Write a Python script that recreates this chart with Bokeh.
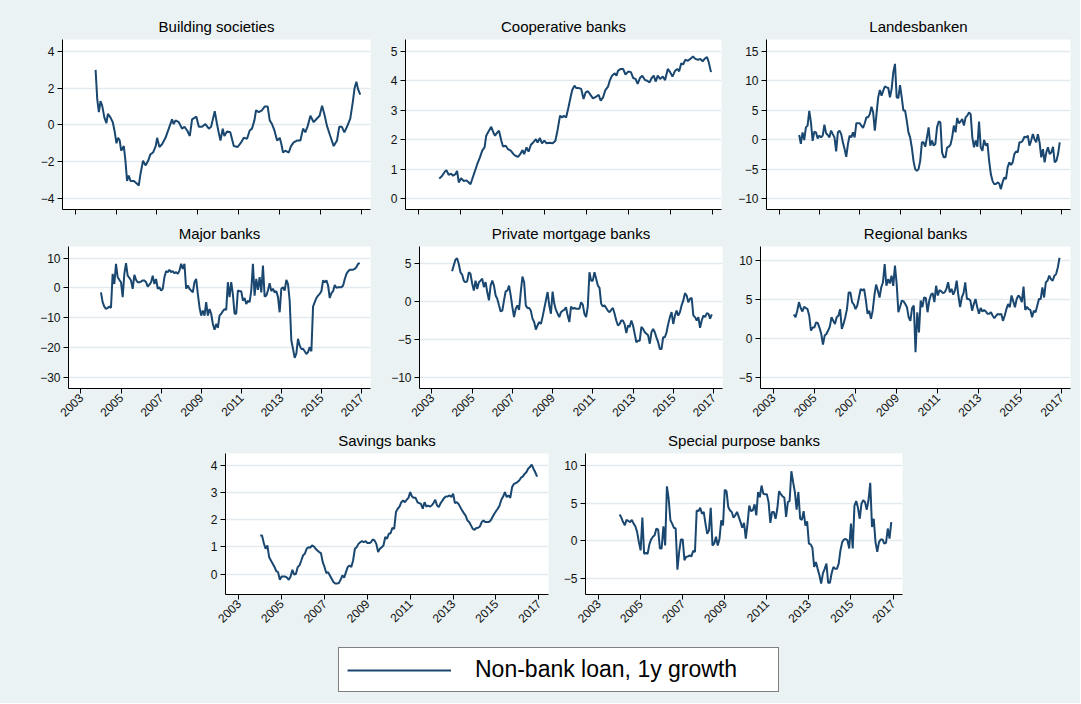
import math
from bokeh.plotting import figure
from bokeh.layouts import column, row
from bokeh.models import Range1d, FixedTicker, Legend, LegendItem
from bokeh.embed import file_html
from bokeh.resources import INLINE

BG = "#EAF2F3"
LINE = "#1A476F"
GRID = "#E2EAEE"
FONT = "Liberation Sans"

legend_label = "Non-bank loan, 1y growth"
x_ticks = [2003, 2005, 2007, 2009, 2011, 2013, 2015, 2017]
months = [2004 + k / 12 for k in range(156)]

# ---- Building societies (irregular reading dates) ----
bs_dates = [2004.00, 2004.08, 2004.16, 2004.24, 2004.32, 2004.43, 2004.53, 2004.60, 2004.73, 2004.84,
            2004.94, 2005.02, 2005.10, 2005.18, 2005.25, 2005.38, 2005.46, 2005.54, 2005.62, 2005.71,
            2005.87, 2006.03, 2006.11, 2006.19, 2006.32, 2006.44, 2006.57, 2006.68, 2006.81, 2006.94,
            2007.01, 2007.12, 2007.25, 2007.42, 2007.58, 2007.74, 2007.82, 2007.91, 2008.07, 2008.23,
            2008.35, 2008.48, 2008.61, 2008.72, 2008.93, 2009.05, 2009.21, 2009.37, 2009.54, 2009.65,
            2009.83, 2009.94, 2010.02, 2010.11, 2010.22, 2010.30, 2010.43, 2010.59, 2010.76, 2010.95,
            2011.12, 2011.25, 2011.41, 2011.54, 2011.65, 2011.77, 2011.85, 2011.98, 2012.14, 2012.27,
            2012.42, 2012.52, 2012.63, 2012.75, 2012.88, 2013.01, 2013.09, 2013.17, 2013.28, 2013.45,
            2013.56, 2013.69, 2013.85, 2014.02, 2014.15, 2014.26, 2014.38, 2014.51, 2014.67, 2014.83,
            2014.96, 2015.08, 2015.19, 2015.32, 2015.48, 2015.65, 2015.81, 2015.92, 2016.05, 2016.17,
            2016.30, 2016.46, 2016.59, 2016.67, 2016.76, 2016.84, 2016.95]
bs_vals = [3.0, 1.4, 0.7, 1.3, 1.05, 0.4, 0.1, 0.6, 0.4, 0.15,
           -0.4, -1.0, -0.7, -0.85, -1.4, -1.15, -1.95, -3.05, -2.75, -3.05,
           -3.05, -3.2, -3.3, -2.7, -1.95, -2.2, -1.95, -1.6, -1.5, -1.15,
           -0.7, -1.2, -1.05, -0.7, -0.2, 0.3, 0.05, 0.25, 0.15, -0.2,
           -0.1, -0.3, -0.6, 0.3, 0.45, -0.1, -0.1, 0.05, -0.2, -0.1,
           0.75, 0.05, -0.4, -0.85, -0.2, -0.6, -0.35, -0.4, -1.15, -1.2,
           -0.95, -0.7, -0.75, -0.3, -0.2, 0.25, 0.8, 0.7, 0.8, 1.0,
           1.0, 0.25, 0.05, -0.3, -0.85, -0.7, -1.05, -1.5, -1.4, -1.5,
           -1.15, -0.95, -0.85, -0.85, -0.2, -0.4, -0.05, 0.5, 0.15, 0.35,
           0.5, 1.05, 0.6, -0.05, -0.6, -1.15, -0.85, -0.1, -0.1, -0.4,
           -0.1, 0.35, 1.3, 2.0, 2.35, 1.95, 1.65]

# ---- Cooperative banks (irregular reading dates) ----
coop_dates = [2003.99, 2004.12, 2004.23, 2004.33, 2004.44, 2004.55, 2004.65, 2004.76, 2004.84, 2004.92,
              2005.03, 2005.16, 2005.29, 2005.40, 2005.48, 2005.56, 2005.67, 2005.80, 2005.93, 2006.04,
              2006.15, 2006.23, 2006.36, 2006.47, 2006.57, 2006.65, 2006.76, 2006.84, 2006.95, 2007.03,
              2007.16, 2007.27, 2007.40, 2007.53, 2007.64, 2007.75, 2007.85, 2007.96, 2008.04, 2008.15,
              2008.25, 2008.36, 2008.47, 2008.60, 2008.68, 2008.79, 2008.89, 2009.00, 2009.11, 2009.24,
              2009.40, 2009.53, 2009.64, 2009.75, 2009.85, 2009.93, 2010.04, 2010.15, 2010.25, 2010.33,
              2010.44, 2010.52, 2010.63, 2010.76, 2010.87, 2010.97, 2011.08, 2011.21, 2011.32, 2011.48,
              2011.59, 2011.69, 2011.80, 2011.91, 2012.04, 2012.12, 2012.23, 2012.36, 2012.44, 2012.52,
              2012.65, 2012.76, 2012.87, 2013.00, 2013.13, 2013.24, 2013.35, 2013.45, 2013.56, 2013.67,
              2013.80, 2013.91, 2014.02, 2014.12, 2014.22, 2014.31, 2014.41, 2014.52, 2014.65, 2014.76,
              2014.89, 2015.00, 2015.11, 2015.24, 2015.34, 2015.43, 2015.53, 2015.62, 2015.72, 2015.85,
              2015.96, 2016.09, 2016.20, 2016.33, 2016.44, 2016.55, 2016.68, 2016.76, 2016.84, 2016.95]
coop_vals = [0.68, 0.77, 0.89, 0.97, 0.81, 0.85, 0.78, 0.83, 0.94, 0.55,
             0.69, 0.60, 0.62, 0.55, 0.49, 0.66, 0.89, 1.17, 1.40, 1.63,
             1.74, 2.14, 2.31, 2.44, 2.25, 2.14, 2.25, 2.31, 1.97, 1.77,
             1.80, 1.68, 1.63, 1.51, 1.45, 1.42, 1.51, 1.65, 1.51, 1.74,
             1.60, 1.83, 1.91, 2.02, 1.91, 2.06, 1.88, 1.97, 1.88, 1.90,
             1.88, 1.97, 2.36, 2.82, 2.76, 2.82, 2.76, 3.10, 3.44, 3.69,
             3.84, 3.76, 3.76, 3.73, 3.39, 3.61, 3.65, 3.52, 3.41, 3.47,
             3.53, 3.33, 3.44, 3.69, 3.81, 4.01, 4.18, 4.26, 4.18, 4.35,
             4.41, 4.41, 4.22, 4.32, 4.30, 4.10, 4.07, 3.90, 4.10, 4.18,
             4.03, 4.01, 3.95, 4.10, 4.18, 3.98, 4.18, 4.07, 4.15, 4.03,
             4.41, 4.30, 4.15, 4.35, 4.41, 4.33, 4.60, 4.56, 4.72, 4.69,
             4.75, 4.83, 4.75, 4.72, 4.75, 4.67, 4.78, 4.81, 4.64, 4.30]

# ---- Monthly series 2004m1 - 2016m12 ----
landes_vals = [0.8, -0.7, 1.25, -0.05, 2.1, 2.4, 4.9, 2.95, -0.2, 1.35, 1.25, 0.2,
               0.7, 0.4, 0.7, 2.55, 1.1, 0.8, 0.4, 1.55, 0.95, 0.4, -2.0, 1.25,
               1.55, 0.95, -0.45, -1.6, -2.9, -0.75, 0.7, 0.4, 1.25, 0.4, 2.8, 2.8,
               2.8, 2.4, 2.0, 2.8, 3.8, 3.8, 4.35, 5.6, 4.65, 1.55, 4.35, 7.2,
               8.45, 7.5, 8.35, 9.05, 8.9, 8.8, 7.2, 8.65, 11.5, 12.9, 7.2, 7.1,
               9.3, 7.2, 4.95, 4.95, 3.25, 1.25, 0.4, -1.3, -3.6, -5.0, -5.3, -5.0,
               -3.6, -0.45, -0.45, -1.2, 0.4, 2.1, -1.0, -0.15, -1.0, -0.75, 2.1, 3.1,
               2.95, -2.15, -3.0, -3.0, -1.3, -1.2, -0.85, 0.4, 2.4, 1.25, 3.7, 2.8,
               3.1, 3.5, 2.4, 3.8, 4.1, 4.65, 4.35, 0.4, -1.3, -0.15, -1.2, 3.1,
               -1.3, -1.9, -0.05, -1.0, -0.6, -3.6, -5.85, -7.0, -7.55, -7.55, -7.25, -7.45,
               -8.4, -7.25, -6.4, -6.7, -4.7, -3.85, -4.3, -3.85, -2.45, -2.0, -2.15, -0.45,
               -0.45, -0.15, 0.5, 0.4, 0.7, -1.0, -0.15, 0.95, 0.1, -0.45, 0.95, -0.45,
               -3.0, -1.6, -3.85, -2.15, -1.3, -2.45, -2.15, -1.2, -3.85, -3.6, -2.45, -0.45]

major_vals = [-1.5, -4.8, -6.3, -7.1, -6.7, -6.3, -6.7, 4.7, 1.3, 8.1, 3.6, 2.7,
              1.9, -3.1, 4.7, 8.3, 4.1, 3.4, 2.5, -0.3, 4.4, 2.7, 1.9, 1.9,
              2.1, 2.5, 2.5, 1.9, 0.4, 1.1, 1.9, 4.1, 1.3, 3.0, -0.3, 0.2,
              -0.9, -0.3, 3.6, 5.6, 5.3, 6.1, 5.3, 5.6, 4.9, 5.3, 4.7, 5.8,
              8.1, 6.4, 8.1, -0.3, 0.8, -0.3, -0.9, -1.5, 1.9, 3.0, -2.0, -6.5,
              -9.3, -7.6, -9.3, -4.8, -9.3, -7.1, -8.7, -12.1, -14.1, -12.1, -13.4, -9.3,
              -8.7, -7.8, -7.1, -7.4, 1.9, -3.1, 1.9, -2.2, -8.7, -8.7, -0.9, -1.1,
              -1.1, -4.3, -3.4, -5.4, -4.3, -4.8, -0.9, 8.1, -2.6, 3.0, -0.7, 3.6,
              -1.5, 7.5, -2.9, -2.6, -0.9, 1.6, -1.1, -0.3, -1.5, -1.1, -3.1, -8.2,
              -0.3, 0.2, -0.9, 2.7, 1.3, -4.3, -17.7, -20.5, -23.5, -22.0, -17.1, -19.4,
              -20.5, -20.5, -21.3, -22.2, -21.6, -19.9, -21.3, -6.3, -4.8, -3.4, -2.6, -2.0,
              -1.1, 2.5, 1.9, 2.5, 0.8, -3.4, -1.8, -1.1, 1.0, 0.0, 0.2, 0.2,
              0.2, 0.8, 3.0, 4.7, 5.6, 6.1, 6.1, 6.1, 6.4, 7.0, 8.1, 8.3]

mortgage_vals = [3.95, 4.7, 5.45, 5.65, 4.9, 3.8, 3.5, 2.7, 2.5, 2.6, 3.8, 3.6,
                 2.3, 1.4, 2.7, 1.6, 2.5, 2.7, 2.95, 1.85, 2.5, 1.2, 0.1, 2.05,
                 2.7, 2.05, 0.75, 0.3, -0.55, -1.35, -1.25, 0.1, 1.3, 1.4, 2.05, 0.75,
                 -0.8, -2.1, -1.0, -0.55, -1.15, 1.2, 3.25, 2.5, -0.55, -0.9, -0.9, -1.25,
                 -2.3, -2.75, -3.75, -3.2, -2.75, -3.0, -2.1, -1.0, 0.1, 1.2, -0.55, -1.65,
                 1.25, -0.35, -1.15, -1.65, -2.1, -1.45, -1.25, -1.15, -0.8, -1.9, -2.75, -0.7,
                 -1.0, -0.9, -1.0, -1.0, -1.0, -0.15, -0.45, -1.65, -2.1, -0.7, 3.8, 2.7,
                 2.7, 3.8, 2.95, 2.05, 1.75, -0.35, -0.7, -0.55, -0.9, -1.25, -1.45, -1.15,
                 -0.9, -1.65, -2.55, -3.2, -3.0, -2.55, -2.55, -3.05, -4.2, -3.2, -3.4, -2.55,
                 -3.2, -4.3, -5.4, -5.2, -5.2, -3.4, -3.65, -4.1, -4.3, -4.5, -5.6, -4.1,
                 -3.65, -4.1, -4.8, -5.4, -6.3, -6.3, -4.75, -4.75, -4.1, -3.0, -2.1, -1.45,
                 -3.0, -1.9, -1.25, -1.9, -1.45, -0.55, 0.1, 1.05, 0.75, -0.15, 0.3, 0.45,
                 -1.9, -2.1, -2.55, -2.1, -3.5, -2.55, -1.9, -2.1, -1.6, -1.65, -2.3, -1.75]

regional_vals = [3.05, 2.7, 3.55, 4.65, 3.9, 3.45, 4.05, 3.9, 3.75, 2.9, 1.0, 1.4,
                 1.4, 2.05, 1.95, 1.35, 0.55, -0.8, 0.35, 0.55, 1.0, 1.5, 2.7, 2.25,
                 1.85, 2.7, 2.9, 3.75, 1.2, 1.85, 2.7, 3.75, 5.9, 5.9, 4.65, 4.35,
                 3.75, 4.2, 5.25, 6.35, 6.15, 6.35, 4.95, 3.15, 3.55, 2.5, 3.55, 5.5,
                 6.9, 6.15, 5.25, 6.55, 7.2, 9.55, 6.75, 7.6, 7.05, 8.05, 6.75, 9.35,
                 7.0, 3.35, 4.05, 4.85, 4.75, 4.4, 4.0, 2.7, 2.25, 3.9, 4.2, -1.8,
                 3.35, 0.75, 4.85, 4.0, 5.25, 5.2, 3.35, 4.85, 5.6, 5.8, 4.65, 6.75,
                 5.5, 6.2, 6.05, 5.8, 5.9, 6.35, 7.2, 5.9, 6.35, 5.6, 6.15, 7.4,
                 5.5, 4.0, 5.25, 5.8, 7.2, 5.05, 5.05, 4.85, 3.55, 4.4, 5.05, 4.0,
                 3.15, 3.9, 3.45, 3.65, 3.45, 3.15, 3.15, 3.35, 2.9, 2.6, 2.9, 3.15,
                 3.05, 3.15, 2.25, 2.9, 3.75, 4.4, 4.0, 5.5, 4.75, 4.0, 5.05, 5.5,
                 5.25, 4.65, 6.65, 3.65, 4.05, 3.75, 3.65, 2.7, 3.55, 3.35, 4.2, 5.05,
                 5.05, 6.55, 5.25, 7.2, 7.4, 8.05, 7.6, 7.4, 8.05, 8.25, 9.1, 10.35]

savings_vals = [1.42, 1.42, 1.14, 0.93, 1.05, 0.62, 0.50, 0.38, 0.26, 0.11, 0.07, -0.21,
                -0.09, -0.09, -0.09, -0.13, -0.21, -0.09, 0.16, -0.02, 0.01, 0.26, 0.32, 0.50,
                0.69, 0.75, 0.93, 0.99, 0.97, 1.05, 1.02, 0.93, 0.87, 0.81, 0.77, 0.44,
                0.26, 0.04, 0.07, -0.05, -0.17, -0.29, -0.35, -0.35, -0.33, -0.21, -0.05, -0.13,
                0.07, 0.26, 0.32, 0.26, 0.50, 0.93, 0.99, 1.11, 1.17, 1.21, 1.17, 1.21,
                1.14, 1.14, 1.17, 1.27, 1.24, 1.11, 0.81, 0.93, 0.99, 1.05, 1.36, 1.30,
                1.48, 1.50, 1.70, 1.66, 2.28, 2.40, 2.48, 2.64, 2.70, 2.64, 2.73, 2.80,
                3.01, 2.85, 2.80, 2.80, 2.64, 2.61, 2.58, 2.40, 2.64, 2.48, 2.52, 2.48,
                2.52, 2.61, 2.73, 2.52, 2.46, 2.61, 2.70, 2.80, 2.85, 2.85, 2.89, 2.83,
                2.95, 2.61, 2.64, 2.58, 2.46, 2.34, 2.24, 2.15, 1.97, 1.91, 1.79, 1.66,
                1.63, 1.69, 1.70, 1.75, 1.91, 1.97, 1.91, 1.91, 1.91, 1.97, 2.09, 2.21,
                2.31, 2.40, 2.52, 2.73, 2.85, 3.01, 2.83, 2.89, 2.80, 3.19, 3.31, 3.34,
                3.38, 3.44, 3.54, 3.58, 3.68, 3.74, 3.87, 3.93, 4.02, 3.87, 3.74, 3.58]

special_vals = [3.5, 3.1, 2.5, 2.1, 2.8, 2.65, 2.5, 2.8, 2.3, 1.95, 1.2, -0.15,
                -1.25, 3.1, -1.7, -1.6, -1.7, -0.45, 0.2, 0.55, 0.75, 1.65, 1.5, -1.0,
                -1.0, 1.95, -0.6, 7.25, 5.6, 2.75, 2.3, 1.75, 1.65, -3.8, -1.45, 0.2,
                0.2, -2.55, -2.1, -2.05, -1.9, -2.05, -1.3, -1.45, 4.05, 3.95, 4.4, 3.6,
                3.85, 2.3, 0.95, 1.4, 4.4, -0.6, -0.35, 0.55, -0.6, 0.3, 2.75, 2.05,
                6.8, 6.6, 4.5, 4.05, 3.85, 3.1, 3.4, 3.85, 3.2, 2.5, 1.75, 2.4,
                0.3, 2.3, 4.7, 3.95, 4.05, 4.85, 3.4, 6.5, 5.8, 7.35, 6.25, 6.2,
                6.2, 5.15, 2.4, 3.85, 3.85, 2.95, 4.3, 6.6, 6.2, 5.9, 5.75, 3.2,
                5.15, 5.3, 9.25, 7.8, 6.5, 4.15, 6.5, 2.95, 2.8, 3.95, 2.05, 2.6,
                -0.35, -0.45, -0.9, -3.45, -2.8, -3.7, -4.55, -5.65, -4.3, -3.7, -3.0, -5.55,
                -5.55, -4.25, -3.45, -3.7, -3.7, -3.0, -1.25, -0.15, 0.2, 0.25, 0.1, -1.0,
                2.3, -1.0, 4.7, 5.3, 4.4, 2.95, 4.95, 5.4, 5.15, 4.15, 5.4, 7.7,
                1.85, 2.95, -0.15, -1.45, -0.15, 0.2, 0.2, -0.35, -0.25, 1.65, 0.3, 2.5]


def make_panel(title, xs, ys, yr, yticks, width, height, bl, br, bt, bb, xlabels):
    p = figure(width=width, height=height,
               x_range=Range1d(2002.38, 2017.45), y_range=Range1d(*yr),
               output_backend="svg", toolbar_location=None,
               min_border_left=bl, min_border_right=br,
               min_border_top=bt, min_border_bottom=bb)
    p.background_fill_color = "white"
    p.border_fill_color = BG
    p.outline_line_color = None
    p.line(xs, ys, line_color=LINE, line_width=2)

    p.title.text = title
    p.title.align = "center"
    p.title.text_font = FONT
    p.title.text_font_size = "15px"
    p.title.text_font_style = "normal"
    p.title.text_color = "black"

    p.xaxis.ticker = FixedTicker(ticks=x_ticks)
    p.yaxis.ticker = FixedTicker(ticks=yticks)
    for ax in (p.xaxis[0], p.yaxis[0]):
        ax.axis_line_color = "black"
        ax.axis_line_width = 1
        ax.major_tick_line_color = "black"
        ax.major_tick_out = 5
        ax.major_tick_in = 0
        ax.minor_tick_line_color = None
        ax.major_label_text_font = FONT
        ax.major_label_text_font_size = "12px"
        ax.major_label_text_color = "#111111"
    p.yaxis.major_label_standoff = 3
    if xlabels:
        p.xaxis.major_label_orientation = math.pi / 4
        p.xaxis.major_label_standoff = 2
    else:
        p.xaxis.major_label_overrides = {t: "" for t in x_ticks}
        p.xaxis.major_label_standoff = 0
        p.xaxis.major_label_text_font_size = "1px"

    p.xgrid.visible = False
    p.ygrid.ticker = FixedTicker(ticks=yticks)
    p.ygrid.grid_line_color = GRID
    p.ygrid.grid_line_width = 1.5
    return p


# row 1: y 0..217
p1 = make_panel("Building societies", bs_dates, bs_vals, (-4.6, 4.65), [-4, -2, 0, 2, 4],
                383, 217, 62, 13, 39, 8, False)
p2 = make_panel("Cooperative banks", coop_dates, coop_vals, (-0.37, 5.41), [0, 1, 2, 3, 4, 5],
                352, 217, 22, 14, 39, 8, False)
p3 = make_panel("Landesbanken", months, landes_vals, (-11.87, 17.04), [-10, -5, 0, 5, 10, 15],
                345, 217, 31, 10, 39, 8, False)

# row 2: y 217..423
p4 = make_panel("Major banks", months, major_vals, (-33.8, 13.9), [-30, -20, -10, 0, 10],
                388, 206, 68, 18, 29, 35, True)
p5 = make_panel("Private mortgage banks", months, mortgage_vals, (-11.5, 7.2), [-10, -5, 0, 5],
                347, 206, 29, 13, 29, 35, True)
p6 = make_panel("Regional banks", months, regional_vals, (-6.45, 11.8), [-5, 0, 5, 10],
                345, 206, 23, 10, 29, 35, True)

# row 3: y 423..634
p7 = make_panel("Savings banks", months, savings_vals, (-0.75, 4.43), [0, 1, 2, 3, 4],
                560, 211, 225, 12, 30, 40, True)
p8 = make_panel("Special purpose banks", months, special_vals, (-7.1, 11.6), [-5, 0, 5, 10],
                520, 211, 24, 178, 30, 40, True)

# legend strip: y 634..703
lg = figure(width=1080, height=69, output_backend="svg", toolbar_location=None,
            x_axis_type=None, y_axis_type=None, min_border=0,
            x_range=Range1d(0, 1), y_range=Range1d(0, 1))
lg.background_fill_color = BG
lg.border_fill_color = BG
lg.outline_line_color = None
r = lg.line([0.2, 0.8], [5, 5], line_color=LINE, line_width=2)
legend = Legend(items=[LegendItem(label=legend_label, renderers=[r])],
                location=(338, 11), margin=0, padding=8, spacing=0,
                glyph_width=104, glyph_height=24, label_standoff=24,
                label_width=295, label_height=24,
                label_text_font=FONT, label_text_font_size="23px",
                label_text_color="black",
                border_line_color="black", border_line_width=1,
                background_fill_color="white", background_fill_alpha=1)
lg.add_layout(legend)

bgstyle = {"background-color": BG}
layout = column(row(p1, p2, p3, styles=bgstyle),
                row(p4, p5, p6, styles=bgstyle),
                row(p7, p8, styles=bgstyle),
                lg, styles=bgstyle)

open("out.html", "w").write(file_html(layout, INLINE))
